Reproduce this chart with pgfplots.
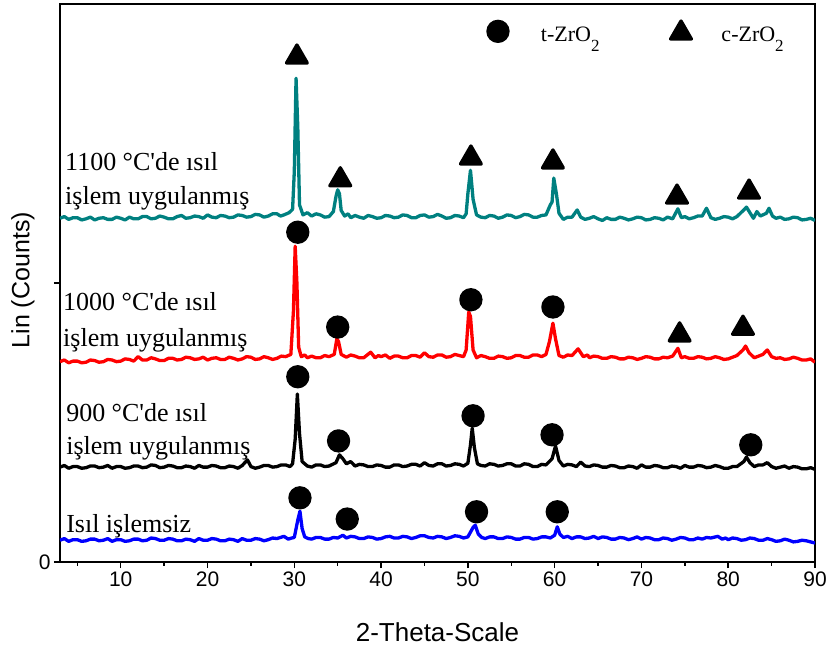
\documentclass[border=0pt]{standalone}
\usepackage{pgfplots}
\pgfplotsset{compat=1.18}
\usepackage{fontspec}
\setmainfont{Liberation Serif}
\setsansfont{Liberation Sans}
% no TeX ligature mapping, so the apostrophe stays straight
\newfontfamily\lbl{Liberation Serif}
\definecolor{tealxrd}{HTML}{008080}

\begin{document}
\begin{tikzpicture}
\begin{axis}[
    width=755pt, height=558pt, scale only axis,
    xmin=3, xmax=90, ymin=0, ymax=1000,
    xtick={10,20,...,90}, minor xtick={5,15,...,85},
    ytick={0,500}, yticklabels={0,{}},
    tick align=outside, xtick pos=bottom, ytick pos=left,
    major tick length=6pt, minor tick length=3.5pt,
    axis line style={line width=1.5pt},
    every tick/.style={line width=1.5pt, black},
    /pgf/number format/assume math mode=true,
    ticklabel style={font=\sffamily\fontsize{21}{21}\selectfont},
    xlabel={2-Theta-Scale}, ylabel={Lin (Counts)},
    xlabel style={font=\sffamily\fontsize{26}{26}\selectfont, at={(axis description cs:0.5,-0.125)}, anchor=center},
    ylabel style={font=\sffamily\fontsize{25}{25}\selectfont, at={(axis description cs:-0.049,0.505)}, anchor=center},
    every axis plot/.append style={line width=3.3pt, line join=round},
]
% 1100 C
\addplot[tealxrd] coordinates {
(3,616) (3.5,619) (4,614) (4.5,617) (5,617) (5.5,613) (6,615) (6.5,618) (7,613) (7.5,616)
(8,617) (8.5,614) (9,614) (9.5,618) (10,616) (10.5,613) (11,618) (11.5,615) (12,615) (12.5,619)
(13,619) (13.5,615) (14,616) (14.5,620) (15,618) (15.5,615) (16,615) (16.5,619) (17,621) (17.5,616)
(18,617) (18.5,620) (19,619) (19.5,616) (20,622) (20.5,618) (21,617) (21.5,621) (22,620) (22.5,617)
(23,618) (23.5,622) (24,621) (24.5,618) (25,619) (25.5,623) (26,622) (26.5,618) (27,620) (27.5,624)
(28,624) (28.4,620) (28.8,622) (29.4,626) (29.8,632) (30.0,700) (30.2,867) (30.4,780) (30.6,640) (31,622)
(31.5,626) (32,620) (32.5,624) (33,622) (33.5,618) (34,619) (34.5,628) (34.8,655) (35.0,667) (35.2,660)
(35.4,630) (35.8,620) (36.2,624) (36.5,617) (37,621) (37.5,618) (38,616) (38.5,621) (39,619) (39.5,616)
(40,617) (40.5,621) (41,620) (41.5,617) (42,618) (42.5,622) (43,621) (43.5,617) (44,617) (44.5,621)
(45,622) (45.5,618) (46,619) (46.5,623) (47,620) (47.5,616) (48,617) (48.5,621) (49,620) (49.5,617)
(49.8,624) (50.0,660) (50.3,702) (50.6,650) (51,622) (51.5,618) (52,617) (52.5,621) (53,620) (53.5,616)
(54,618) (54.5,622) (55,621) (55.5,617) (56,619) (56.5,623) (57,622) (57.5,618) (58,618) (58.5,621)
(59,622) (59.5,640) (59.7,645) (59.9,688) (60.2,660) (60.5,625) (61,614) (61.5,618) (62,618) (62.6,631)
(63,618) (63.5,614) (64,616) (64.5,619) (65,615) (65.5,612) (66,617) (66.5,614) (67,614) (67.5,618)
(68,616) (68.5,613) (69,615) (69.5,618) (70,617) (70.5,613) (71,614) (71.5,617) (72,616) (72.5,613)
(73,618) (73.6,615) (74.2,633) (74.6,617) (75,619) (75.5,615) (76,617) (76.5,620) (77,620) (77.5,634)
(78,617) (78.5,614) (79,616) (79.5,619) (80,618) (80.5,615) (81,619) (81.8,631) (82.1,636) (82.5,626)
(82.9,616) (83.3,628) (83.7,620) (84.4,625) (84.7,634) (85.1,620) (85.5,616) (86,618) (86.5,614) (87,615)
(87.5,618) (88,617) (88.5,613) (89,614) (89.5,616) (90,612)
};
% 1000 C
\addplot[red] coordinates {
(3,359) (3.5,362) (4,357) (4.5,360) (5,360) (5.5,357) (6,358) (6.5,362) (7,361) (7.5,358)
(8,359) (8.5,363) (9,362) (9.5,359) (10,360) (10.5,364) (11,363) (11.5,360) (12,368) (12.5,362)
(13,362) (13.5,366) (14,364) (14.5,361) (15,361) (15.5,365) (16,365) (16.5,362) (17,363) (17.5,367)
(18,366) (18.5,363) (19,364) (19.5,367) (20,362) (20.5,365) (21,366) (21.5,363) (22,363) (22.5,367)
(23,365) (23.5,362) (24,364) (24.5,368) (25,367) (25.5,363) (26,364) (26.5,368) (27,366) (27.5,363)
(28,365) (28.5,369) (29,368) (29.6,372) (29.9,450) (30.1,566) (30.3,500) (30.5,385) (30.8,368) (31.2,371)
(31.5,366) (32,369) (32.5,366) (33,366) (33.5,370) (34,368) (34.6,372) (34.9,400) (35.1,395) (35.4,372)
(36,367) (36.5,371) (37,369) (37.5,366) (38,366) (38.8,376) (39.3,366) (39.7,370) (40,368) (40.5,371)
(41,365) (41.5,369) (42,369) (42.5,366) (43,366) (43.5,370) (44,370) (44.5,367) (45,375) (45.5,368)
(46,367) (46.5,371) (47,371) (47.5,367) (48,368) (48.5,372) (49,370) (49.5,368) (49.8,380) (50.1,448)
(50.3,440) (50.6,380) (51,366) (51.5,370) (52,368) (52.5,365) (53,365) (53.5,369) (54,368) (54.5,365)
(55,366) (55.5,370) (56,370) (56.5,367) (57,367) (57.5,371) (58,371) (58.5,368) (59,372) (59.4,395)
(59.8,428) (60.1,400) (60.5,370) (61,367) (61.5,371) (62,370) (62.7,382) (63.3,368) (63.8,371) (64,366)
(64.5,369) (65,368) (65.5,365) (66,365) (66.5,368) (67,367) (67.5,364) (68,364) (68.5,367) (69,366)
(69.5,363) (70,365) (70.5,368) (71,367) (71.5,364) (72,364) (72.5,367) (73,366) (73.6,369) (74.2,383)
(74.6,366) (75,368) (75.5,365) (76,365) (76.5,368) (77,367) (77.5,364) (78,365) (78.5,368) (79,366)
(79.5,363) (80,364) (80.5,367) (81,370) (81.7,380) (82,387) (82.4,375) (83,366) (83.5,369) (84,372)
(84.5,380) (85,368) (85.5,365) (86,366) (86.5,363) (87,364) (87.5,367) (88,365) (88.5,362) (89,362)
(89.5,364) (90,358)
};
% 900 C
\addplot[black] coordinates {
(3,170) (3.5,173) (4,168) (4.5,171) (5,171) (5.5,168) (6,169) (6.5,172) (7,172) (7.5,169)
(8,170) (8.5,173) (9,168) (9.5,171) (10,171) (10.5,168) (11,169) (11.5,172) (12,172) (12.5,169)
(13,170) (13.5,174) (14,173) (14.5,169) (15,170) (15.5,173) (16,172) (16.5,169) (17,169) (17.5,172)
(18,171) (18.5,168) (19,173) (19.5,170) (20,170) (20.5,173) (21,172) (21.5,169) (22,169) (22.5,172)
(23,171) (23.5,168) (24,173) (24.6,183) (25,171) (25.5,168) (26,170) (26.5,173) (27,173) (27.5,170)
(28,171) (28.5,174) (29,174) (29.5,171) (29.8,176) (30.1,220) (30.35,301) (30.6,230) (30.9,180) (31.5,172)
(32,170) (32.5,174) (33,174) (33.5,171) (34,172) (34.8,178) (35.2,192) (35.6,185) (36,176) (36.5,180)
(37,172) (37.5,175) (38,174) (38.5,171) (39,171) (39.5,174) (40,173) (40.5,170) (41,170) (41.5,174)
(42,174) (42.5,171) (43,172) (43.5,175) (44,175) (44.5,172) (45,178) (45.5,173) (46,172) (46.5,176)
(47,176) (47.5,172) (48,173) (48.5,176) (49,175) (49.5,172) (50,177) (50.3,210) (50.5,240) (50.75,205)
(51.1,176) (51.5,173) (52,172) (52.5,176) (53,175) (53.5,172) (54,173) (54.5,176) (55,176) (55.5,172)
(56,172) (56.5,176) (57,175) (57.5,171) (58,171) (58.5,175) (59,174) (59.7,185) (60.1,208) (60.5,182)
(61,172) (61.5,175) (62,174) (62.5,171) (63,179) (63.5,172) (64,171) (64.5,174) (65,173) (65.5,170)
(66,170) (66.5,173) (67,172) (67.5,169) (68,169) (68.5,172) (69,171) (69.5,168) (70,174) (70.5,170)
(71,170) (71.5,173) (72,172) (72.5,169) (73,169) (73.5,172) (74,171) (74.5,168) (75,173) (75.5,170)
(76,170) (76.5,173) (77,172) (77.5,169) (78,170) (78.5,173) (79,171) (79.5,168) (80,168) (80.5,171)
(81,171) (81.8,180) (82.1,188) (82.5,178) (83,171) (83.5,174) (84,174) (84.5,178) (85,171) (85.5,168)
(86,170) (86.5,172) (87,168) (87.5,171) (88,170) (88.5,167) (89,167) (89.5,169) (90,166)
};
% untreated
\addplot[blue] coordinates {
(3,39) (3.5,42) (4,37) (4.5,40) (5,40) (5.5,37) (6,38) (6.5,41) (7,41) (7.5,38)
(8,39) (8.5,42) (9,37) (9.5,40) (10,40) (10.5,37) (11,38) (11.5,41) (12,41) (12.5,38)
(13,39) (13.5,43) (14,42) (14.5,39) (15,39) (15.5,42) (16,41) (16.5,38) (17,38) (17.5,41)
(18,40) (18.5,37) (19,42) (19.5,39) (20,39) (20.5,42) (21,41) (21.5,38) (22,38) (22.5,41)
(23,40) (23.5,37) (24,42) (24.5,39) (25,39) (25.5,42) (26,41) (26.5,38) (27,40) (27.5,43)
(28,42) (28.8,46) (29.3,41) (29.7,43) (30,44) (30.4,75) (30.65,91) (30.9,60) (31.2,45) (31.6,42)
(32,41) (32.5,44) (33,44) (33.5,41) (34,41) (34.5,44) (35,43) (35.6,48) (36,43) (36.5,46)
(37,45) (37.5,42) (38,42) (38.5,45) (39,44) (39.5,41) (40,42) (40.5,45) (41,46) (41.5,43)
(42,43) (42.5,46) (43,45) (43.5,42) (44,44) (44.5,47) (45,47) (45.5,44) (46,43) (46.5,46)
(47,45) (47.5,42) (48,44) (48.5,47) (49,46) (49.5,43) (50,45) (50.6,62) (50.85,66) (51.2,50)
(51.6,44) (52,42) (52.5,45) (53,45) (53.5,42) (54,42) (54.5,45) (55,44) (55.5,41) (56,41)
(56.5,44) (57,44) (57.5,41) (58,42) (58.5,45) (59,45) (59.5,43) (60,48) (60.3,63) (60.6,50)
(61,44) (61.5,46) (62,42) (62.5,45) (63,45) (63.5,42) (64,43) (64.5,46) (65,42) (65.5,45)
(66,44) (66.5,41) (67,41) (67.5,44) (68,43) (68.5,40) (69,42) (69.5,45) (70,41) (70.5,44)
(71,43) (71.5,40) (72,40) (72.5,43) (73,42) (73.5,39) (74,41) (74.5,44) (75,43) (75.5,40)
(76,40) (76.5,43) (77,41) (77.5,44) (78,43) (78.8,46) (79.3,41) (79.7,43) (80,40) (80.5,43)
(81,42) (81.5,39) (82,40) (82.5,43) (83,42) (83.5,39) (84,39) (84.5,42) (85,40) (85.5,37)
(86,38) (86.5,41) (87,39) (87.5,36) (88,37) (88.5,39) (89,38) (89.5,36) (90,34)
};
% phase markers: t-ZrO2 (circles)
\addplot[only marks, mark=*, mark size=10pt, black] coordinates {
(30.4,591) (35.0,421) (50.35,470) (59.8,457)
(30.4,332) (35.1,217) (50.6,262) (59.7,228) (82.6,210)
(30.65,115) (36.1,77) (51.0,90) (60.3,90)
(53.47,951)
};
% c-ZrO2 (triangles)
\addplot[only marks, mark=triangle*, mark size=12pt, black] coordinates {
(30.3,905) (35.3,685) (50.35,724) (59.8,717) (74.1,654) (82.4,663)
(74.4,407) (81.7,419)
(74.56,948)
};
% legend text
\node[anchor=base west, font=\lbl\fontsize{22}{22}\selectfont, inner sep=0pt] at (axis cs:58.4,932)
  {t-ZrO\raisebox{-10pt}{\fontsize{17}{17}\selectfont 2}};
\node[anchor=base west, font=\lbl\fontsize{22}{22}\selectfont, inner sep=0pt] at (axis cs:79.2,932)
  {c-ZrO\raisebox{-10pt}{\fontsize{17}{17}\selectfont 2}};
% sample labels
\begin{scope}[every node/.style={anchor=base west, inner sep=0pt, font=\lbl\fontsize{26}{26}\selectfont}]
\node at (axis cs:3.58,702) {1100 °C'de ısıl};
\node at (axis cs:3.58,640) {işlem uygulanmış};
\node at (axis cs:3.35,450) {1000 °C'de ısıl};
\node at (axis cs:3.35,387) {işlem uygulanmış};
\node at (axis cs:3.7,251) {900 °C'de ısıl};
\node at (axis cs:3.7,192) {işlem uygulanmış};
\node at (axis cs:3.7,52) {Isıl işlemsiz};
\end{scope}
\end{axis}
\pgfresetboundingbox
\path[use as bounding box] ([shift={(-60pt,-85pt)}]current axis.south west) rectangle ([shift={(14pt,4pt)}]current axis.north east);
\end{tikzpicture}
\end{document}
